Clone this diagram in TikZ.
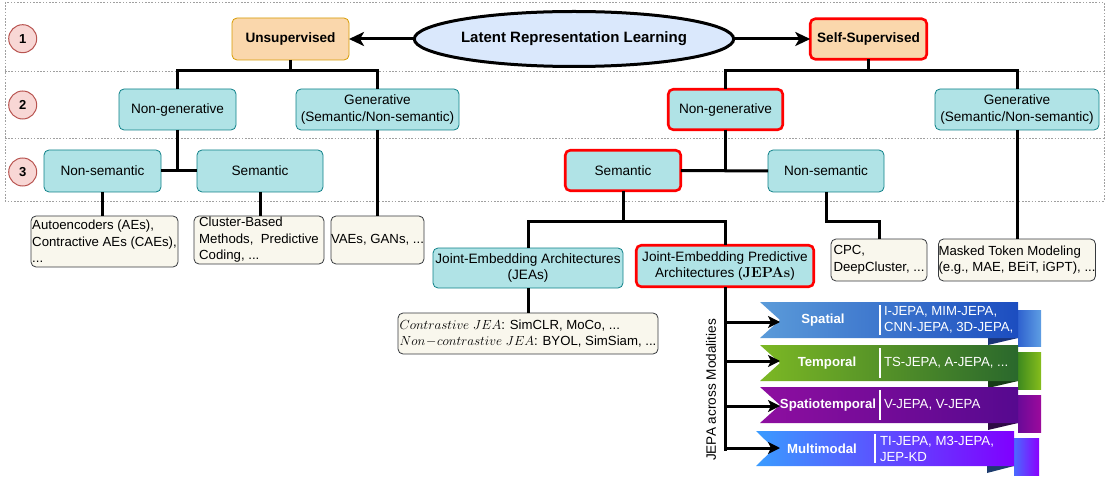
\RequirePackage{fix-cm}
\documentclass[tikz,border=0pt]{standalone}
\usepackage[no-math]{fontspec}
\setmainfont{Liberation Sans}
\usetikzlibrary{shapes.geometric,arrows.meta}

\definecolor{tealfill}{HTML}{B0E3E6}
\definecolor{tealline}{HTML}{0E8088}
\definecolor{notefill}{HTML}{F9F7ED}
\definecolor{noteline}{HTML}{36393D}
\definecolor{orfill}{HTML}{FAD7AC}
\definecolor{orline}{HTML}{D79B00}
\definecolor{hlred}{HTML}{FF0000}
\definecolor{ellfill}{HTML}{DAE8FC}
\definecolor{circfill}{HTML}{F8D7D5}
\definecolor{circline}{HTML}{B85450}
\definecolor{rowgray}{HTML}{A0A0A0}
% ribbon colours
\definecolor{spA}{HTML}{5B9BD9}\definecolor{spB}{HTML}{1C4DC0}
\definecolor{spTa}{HTML}{2F62CF}\definecolor{spTb}{HTML}{5E9EE3}\definecolor{spF}{HTML}{1A3478}
\definecolor{tpA}{HTML}{7CB824}\definecolor{tpB}{HTML}{2A682C}
\definecolor{tpTa}{HTML}{3E8A1E}\definecolor{tpTb}{HTML}{86BD1C}\definecolor{tpF}{HTML}{163C16}
\definecolor{stA}{HTML}{8E0EA0}\definecolor{stB}{HTML}{56098F}
\definecolor{stTa}{HTML}{6A0A98}\definecolor{stTb}{HTML}{9C0A9C}\definecolor{stF}{HTML}{2E0A45}
\definecolor{mmA}{HTML}{3A9CFF}\definecolor{mmB}{HTML}{8000FF}
\definecolor{mmTa}{HTML}{4A6AFF}\definecolor{mmTb}{HTML}{8A00FF}\definecolor{mmF}{HTML}{1E3C6E}

\tikzset{
  base/.style={font=\fontsize{13.4}{16.5}\selectfont, inner sep=0pt, outer sep=0pt},
  tealbox/.style={base, draw=tealline, fill=tealfill, rounded corners=5pt,
    line width=0.8pt, align=center, font=\fontsize{13.6}{16.5}\selectfont},
  redbox/.style={tealbox, draw=hlred, line width=2.6pt},
  topbox/.style={base, draw=orline, fill=orfill, rounded corners=5pt,
    line width=0.8pt, font=\fontsize{13.6}{16}\selectfont\bfseries},
  notebox/.style={base, draw=noteline, fill=notefill, rounded corners=5pt,
    line width=0.8pt, align=left, font=\fontsize{13.2}{16.5}\selectfont},
  numcircle/.style={base, circle, draw=circline, fill=circfill, minimum size=28pt,
    line width=1pt, font=\fontsize{13}{13}\selectfont\bfseries},
  rowline/.style={draw=rowgray, line width=0.7pt, dash pattern=on 1.6pt off 1.6pt},
  conn/.style={draw=black, line width=3pt},
  bigarrow/.style={-{Stealth[length=15pt,width=14pt,inset=4pt]}},
  smallarrow/.style={-{Stealth[length=12pt,width=12pt,inset=3pt]}},
  ribname/.style={base, text=white, font=\fontsize{13.2}{16}\selectfont\bfseries},
  riblist/.style={base, text=white, align=left, anchor=west,
    font=\fontsize{13.2}{16}\selectfont},
  sepline/.style={draw=white, line width=2pt},
}

\begin{document}
\begin{tikzpicture}[x=1pt,y=-1pt]
\useasboundingbox (0,0) rectangle (1115,478);

% level bands
\draw[rowline] (5,2) rectangle (1104,201);
\draw[rowline] (5,71) -- (1104,71);
\draw[rowline] (5,138) -- (1104,138);

\node[numcircle] (n1) at (22.7,38.7) {1};
\node[numcircle] (n2) at (22.7,105) {2};
\node[numcircle] (n3) at (22.7,172) {3};

\coordinate (barL) at (0,71);
\coordinate (barS) at (0,222);
\coordinate (spine) at (0,451);

% level 1
\node[base, ellipse, draw=black, fill=ellfill, line width=3pt, minimum width=281pt,
  minimum height=55pt, font=\fontsize{15}{16}\selectfont\bfseries] (lrl) at (574,39)
  {Latent Representation Learning};
\node[topbox, minimum width=117pt, minimum height=42pt] (unsup) at (290.5,39) {Unsupervised};
\node[topbox, draw=hlred, line width=2.6pt, minimum width=116.5pt, minimum height=40.5pt]
  (selfsup) at (868.5,39) {Self-Supervised};

% level 2
\node[tealbox, minimum width=117pt, minimum height=41pt] (nongenL) at (177.5,109.5) {Non-generative};
\node[tealbox, minimum width=163pt, minimum height=41pt] (genL) at (377.5,109.5)
  {Generative\\(Semantic/Non-semantic)};
\node[redbox, minimum width=114.5pt, minimum height=40.5pt] (nongenR) at (725.5,109.5) {Non-generative};
\node[tealbox, minimum width=164pt, minimum height=41pt] (genR) at (1017,109.5)
  {Generative\\(Semantic/Non-semantic)};

% level 3
\node[tealbox, minimum width=117pt, minimum height=42pt] (nonsemL) at (102.5,171) {Non-semantic};
\node[tealbox, minimum width=126pt, minimum height=42pt] (semL) at (260,171) {Semantic};
\node[redbox, minimum width=115.5pt, minimum height=40.5pt] (semR) at (623,170.5) {Semantic};
\node[tealbox, minimum width=116pt, minimum height=42pt] (nonsemR) at (826,171) {Non-semantic};

% method examples
\node[notebox, minimum width=147pt, minimum height=51pt] (aebox) at (104.5,241.5)
  {Autoencoders (AEs),\\Contractive AEs (CAEs),\\...};
\node[notebox, minimum width=130pt, minimum height=48pt] (clbox) at (259,240)
  {Cluster-Based\\Methods,~ Predictive\\Coding, ...};
\node[notebox, minimum width=93pt, minimum height=48pt] (vaebox) at (377.5,240) {VAEs, GANs, ...};
\node[notebox, minimum width=96pt, minimum height=42pt] (cpcbox) at (879,260) {CPC,\\DeepCluster, ...};
\node[notebox, minimum width=156pt, minimum height=42pt] (mtmbox) at (1017,260)
  {Masked Token Modeling\\(e.g., MAE, BEiT, iGPT), ...};

% joint-embedding families
\node[tealbox, minimum width=190pt, minimum height=40pt] (jea) at (528,268)
  {Joint-Embedding Architectures\\(JEAs)};
\node[redbox, minimum width=177.5pt, minimum height=41.5pt] (jepa) at (725,266)
  {Joint-Embedding Predictive\\Architectures ({\fontsize{14.5}{16}\selectfont$\mathbf{JEPAs}$})};
\node[notebox, minimum width=260pt, minimum height=41pt] (contr) at (528,333.5)
  {$Contrastive\ JEA$: SimCLR, MoCo, ...\\$Non\!-\!contrastive\ JEA$: BYOL, SimSiam, ...};

% connectors, unsupervised branch
\draw[conn, bigarrow] (lrl.west) -- (unsup.east);
\draw[conn, bigarrow] (lrl.east) -- (selfsup.west);
\draw[conn] (unsup.south) -- (unsup.south |- barL);
\draw[conn] (nongenL.north) -- (nongenL.north |- barL) -| (genL.north);
\draw[conn] (nonsemL.east) -- (semL.west);
\draw[conn] (nongenL.south) -- (nongenL.south |- nonsemL.east);
\draw[conn] (nonsemL.south) -- (nonsemL.south |- aebox.north);
\draw[conn] (semL.south) -- (semL.south |- clbox.north);
\draw[conn] (genL.south) -- (genL.south |- vaebox.north);

% connectors, self-supervised branch
\draw[conn] (selfsup.south) -- (selfsup.south |- barL);
\draw[conn] (nongenR.north) -- (nongenR.north |- barL) -| (genR.north);
\draw[conn] (semR.east) -- (nonsemR.west);
\draw[conn] (nongenR.south) -- (nongenR.south |- semR.east);
\draw[conn] (nonsemR.south) -- (nonsemR.south |- barS) -| (cpcbox.north);
\draw[conn] (genR.south) -- (genR.south |- mtmbox.north);
\draw[conn] (semR.south) -- (semR.south |- barS);
\draw[conn] (jea.north) -- (jea.north |- barS) -| (jepa.north);
\draw[conn] (jea.south) -- (contr.north);

% modality ribbons
% spatial
\shade[left color=spTa, right color=spTb] (1018,310) rectangle (1041,346);
\fill[spF] (988,338) -- (1018,338) -- (988,345) -- cycle;
\shade[left color=spA, right color=spB] (760,302) -- (1018,302) -- (1018,338) -- (760,338) -- (780,320) -- cycle;
\draw[sepline] (880,305) -- (880,335);
% temporal
\shade[left color=tpTa, right color=tpTb] (1018,352) rectangle (1041,389);
\fill[tpF] (988,381) -- (1018,381) -- (988,388) -- cycle;
\shade[left color=tpA, right color=tpB] (760,345) -- (1018,345) -- (1018,381) -- (760,381) -- (780,363) -- cycle;
\draw[sepline] (880,348) -- (880,378);
% spatiotemporal
\shade[left color=stTa, right color=stTb] (1018,395) rectangle (1041,432);
\fill[stF] (988,423) -- (1018,423) -- (988,430) -- cycle;
\shade[left color=stA, right color=stB] (760,387) -- (1018,387) -- (1018,423) -- (760,423) -- (780,405) -- cycle;
\draw[sepline] (880,390) -- (880,420);
% multimodal
\shade[left color=mmTa, right color=mmTb] (1014,438) rectangle (1039,475);
\fill[mmF] (987,466) -- (1014,466) -- (987,473) -- cycle;
\shade[left color=mmA, right color=mmB] (756,431) -- (1014,431) -- (1014,466) -- (756,466) -- (774,448.5) -- cycle;
\draw[sepline] (875,434) -- (875,463);

\node[ribname] (rspatial) at (823,320) {Spatial};
\node[ribname] (rtemporal) at (827,363) {Temporal};
\node[ribname] (rspatio) at (828,405) {Spatiotemporal};
\node[ribname] (rmulti) at (822,448.5) {Multimodal};
\node[riblist] (lspatial) at (884,320) {I-JEPA, MIM-JEPA,\\CNN-JEPA, 3D-JEPA,};
\node[riblist] (ltemporal) at (884,363) {TS-JEPA, A-JEPA, ...};
\node[riblist] (lspatio) at (884,405) {V-JEPA, V-JEPA};
\node[riblist] (lmulti) at (880,448.5) {TI-JEPA, M3-JEPA,\\JEP-KD};

\coordinate (aspatial) at (780,322);
\coordinate (atemporal) at (780,361);
\coordinate (aspatio) at (780,406);
\coordinate (amulti) at (780,448);

% JEPA modality spine
\draw[conn] (jepa.south) -- (jepa.south |- spine);
\draw[conn, smallarrow] (jepa.south |- aspatial) -- (aspatial);
\draw[conn, smallarrow] (jepa.south |- atemporal) -- (atemporal);
\draw[conn, smallarrow] (jepa.south |- aspatio) -- (aspatio);
\draw[conn, smallarrow] (jepa.south |- amulti) -- (amulti);
\node[base, rotate=90, font=\fontsize{13.6}{16}\selectfont] (modal) at (711,390) {JEPA across Modalities};

\end{tikzpicture}
\end{document}
